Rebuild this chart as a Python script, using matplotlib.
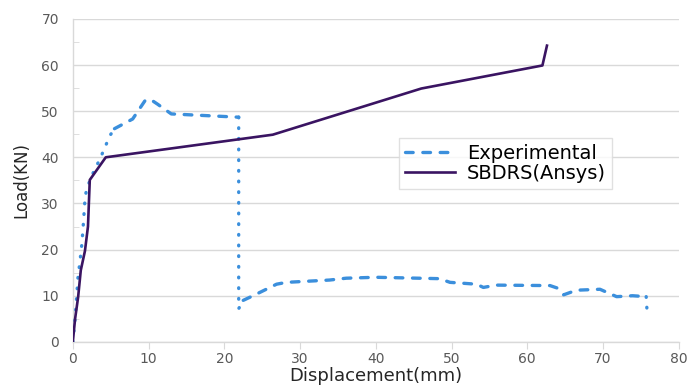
import matplotlib
matplotlib.use("Agg")
import matplotlib.pyplot as plt
from matplotlib.ticker import MultipleLocator

# Experimental load-displacement curve
exp_disp = [0, 0.3, 0.5, 0.7, 0.9, 1.2, 1.4, 1.6, 1.8, 2.5, 3.6, 4.9, 5.5,
            7.9, 9.5, 10.2, 11.2, 13.0, 21.8, 21.9, 21.9, 22.5, 23.8, 26.9,
            28.2, 33.9, 36.1, 40.0, 48.4, 49.8, 53.3, 54.2, 55.9, 63.0, 63.9,
            64.8, 66.5, 69.6, 71.8, 73.9, 75.7, 75.8]
exp_load = [0, 5, 9.7, 14.4, 16.8, 21.3, 25.8, 30.8, 33, 36, 39.7, 44.7, 46.2,
            48.3, 52.2, 52.6, 51.5, 49.4, 48.7, 48.7, 7.2, 9, 10, 12.5,
            12.9, 13.4, 13.8, 14.0, 13.7, 12.9, 12.5, 11.8, 12.3, 12.2, 11.7,
            10.2, 11.2, 11.4, 9.8, 10.0, 9.8, 7.0]
# index ranges drawn dotted (steep parts) / dashed
exp_pieces = [(0, 12, "dot"), (12, 19, "dash"), (19, 21, "dot"),
              (21, 40, "dash"), (40, 42, "dot")]

# SBDRS (Ansys) simulation
sim_disp = [0, 0.3, 0.7, 1.05, 1.6, 2.0, 2.24, 4.35, 26.4, 46.0, 62.0, 62.6]
sim_load = [0, 5, 9.7, 15.5, 19.7, 25, 35.1, 40.0, 44.9, 54.9, 59.9, 64.2]

blue = "#3b8fdc"
purple = "#3a1462"
grid_c = "#d9d9d9"
text_c = "#595959"

fig = plt.figure(figsize=(6.87, 3.85), dpi=100)
ax = fig.add_axes([0.106, 0.112, 0.882, 0.839])

styles = {"dot": (0, (0.2, 3.0)), "dash": (0, (2.3, 2.9))}
for i, (a, b, st) in enumerate(exp_pieces):
    ax.plot(exp_disp[a:b + 1], exp_load[a:b + 1], color=blue, lw=2.4,
            linestyle=styles[st], dash_capstyle="round", zorder=3,
            label="Experimental" if i == 0 else None)
ax.plot(sim_disp, sim_load, color=purple, lw=1.9, zorder=4,
        label="SBDRS(Ansys)")

ax.set_xlim(0, 80)
ax.set_ylim(0, 70)
ax.xaxis.set_major_locator(MultipleLocator(10))
ax.yaxis.set_major_locator(MultipleLocator(10))
ax.yaxis.set_minor_locator(MultipleLocator(5))
ax.grid(axis="y", which="major", color=grid_c, lw=1)
ax.set_axisbelow(True)

for s in ["top", "right"]:
    ax.spines[s].set_visible(False)
for s in ["left", "bottom"]:
    ax.spines[s].set_color(grid_c)
    ax.spines[s].set_linewidth(1)

ax.tick_params(axis="x", direction="out", length=5, color=grid_c,
               labelsize=10, labelcolor=text_c, pad=2)
ax.tick_params(axis="y", which="major", length=0, labelsize=10,
               labelcolor=text_c, pad=10)
ax.tick_params(axis="y", which="minor", direction="in", length=4,
               color=grid_c)

ax.set_xlabel("Displacement(mm)", fontsize=13, color="#262626", labelpad=1)
ax.set_ylabel("Load(KN)", fontsize=12, color="#262626", labelpad=8)

leg = ax.legend(loc="upper left", bbox_to_anchor=(0.522, 0.66),
                fontsize=14, frameon=True, fancybox=False,
                handlelength=2.6, borderpad=0.3, labelspacing=0.05,
                handletextpad=0.6)
leg.get_frame().set_edgecolor(grid_c)
leg.get_frame().set_linewidth(1)
# legend handle for experimental shown as plain dashes
leg.get_lines()[0].set_linestyle((0, (2.3, 2.9)))

fig.savefig("out.png", dpi=100)
